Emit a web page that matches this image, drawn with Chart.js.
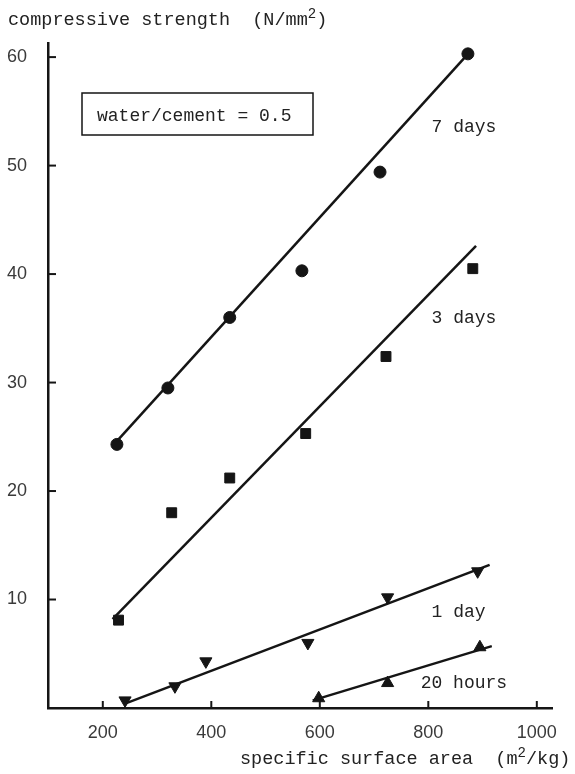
<!DOCTYPE html>
<html>
<head>
<meta charset="utf-8">
<script src="https://cdn.jsdelivr.net/npm/chart.js@4.4.0/dist/chart.umd.min.js"></script>
<style>
  html, body { margin:0; padding:0; background:#fff; }
  #wrap { width:575px; height:774px; }
</style>
</head>
<body>
<div id="wrap"><canvas id="c" width="575" height="774"></canvas></div>
<script>
// tick labels
const xTicks = [200, 400, 600, 800, 1000];
const yTicks = [10, 20, 30, 40, 50, 60];

// measured points (specific surface area m2/kg, strength N/mm2)
const days7X = [226, 320, 434, 567, 711, 873];
const days7Y = [24.3, 29.5, 36.0, 40.3, 49.4, 60.3];
const days3X = [229, 327, 434, 574, 722, 882];
const days3Y = [8.1, 18.0, 21.2, 25.3, 32.4, 40.5];
const day1X = [241, 333, 390, 578, 725, 891];
const day1Y = [0.7, 2.0, 4.3, 6.0, 10.2, 12.6];
const hours20X = [598, 725, 895];
const hours20Y = [0.9, 2.3, 5.6];

// fitted lines (start and end)
const fit7X = [226, 877];   const fit7Y = [24.6, 60.5];
const fit3X = [218, 888];   const fit3Y = [8.2, 42.6];
const fit1X = [241, 913];   const fit1Y = [0.4, 13.2];
const fit20X = [587, 917];  const fit20Y = [0.7, 5.7];

const curveNames = ['7 days', '3 days', '1 day', '20 hours'];

const ink = '#151515';
const mono = '"Liberation Mono", "DejaVu Sans Mono", monospace';
const pts = (xs, ys) => xs.map((x, i) => ({ x, y: ys[i] }));

const lineDs = (xs, ys) => ({ data: pts(xs, ys), showLine:true, borderColor:ink, borderWidth:2.5, pointRadius:0, fill:false });
const markDs = (xs, ys, style, r, rot) => ({ data: pts(xs, ys), showLine:false, pointStyle:style, pointRadius:r, pointRotation:rot||0, backgroundColor:ink, borderColor:ink, borderWidth:1 });

// labels placed at data coordinates
const curveLabelAt = [[806, 53.5], [806, 35.9], [806, 8.85], [786, 2.3]];

const decor = {
  id: 'decor',
  afterDraw(chart) {
    const { ctx, scales: { x, y } } = chart;
    ctx.save();
    ctx.strokeStyle = ink; ctx.lineWidth = 2;
    // inward tick marks
    xTicks.forEach(v => { const px = x.getPixelForValue(v); ctx.beginPath(); ctx.moveTo(px, y.bottom); ctx.lineTo(px, y.bottom - 7); ctx.stroke(); });
    yTicks.forEach(v => { const py = y.getPixelForValue(v); ctx.beginPath(); ctx.moveTo(x.left, py); ctx.lineTo(x.left + 8, py); ctx.stroke(); });

    ctx.fillStyle = '#222';
    ctx.textBaseline = 'alphabetic';
    // axis titles with superscript
    const sup = (parts, x0, yb) => {
      let cx = x0;
      parts.forEach(([t, s]) => {
        ctx.font = (s ? '14px ' : '18.5px ') + mono;
        ctx.fillText(t, cx, s ? yb - 7 : yb);
        cx += ctx.measureText(t).width;
      });
    };
    ctx.textAlign = 'left';
    sup([['compressive strength  (N/mm', 0], ['2', 1], [')', 0]], 8, 25);
    sup([['specific surface area  (m', 0], ['2', 1], ['/kg)', 0]], 240, 764);

    // condition box
    ctx.lineWidth = 1.5;
    ctx.strokeRect(82, 93, 231, 42);
    ctx.font = '18px ' + mono;
    ctx.fillText('water/cement = 0.5', 97, 121);

    // curve labels
    ctx.textBaseline = 'middle';
    curveNames.forEach((n, i) => {
      ctx.fillText(n, x.getPixelForValue(curveLabelAt[i][0]), y.getPixelForValue(curveLabelAt[i][1]));
    });
    ctx.restore();
  }
};

const tickFont = { family: '"Liberation Sans", Arial, sans-serif', size: 18 };

new Chart(document.getElementById('c'), {
  type: 'scatter',
  data: {
    datasets: [
      lineDs(fit7X, fit7Y), lineDs(fit3X, fit3Y), lineDs(fit1X, fit1Y), lineDs(fit20X, fit20Y),
      markDs(days7X, days7Y, 'circle', 6),
      markDs(days3X, days3Y, 'rect', 7),
      markDs(day1X, day1Y, 'triangle', 7, 180),
      markDs(hours20X, hours20Y, 'triangle', 7)
    ]
  },
  options: {
    responsive: false,
    animation: false,
    layout: { padding: { top: 43, right: 23, left: 0, bottom: 0 } },
    plugins: { legend: { display:false }, tooltip: { enabled:false } },
    scales: {
      x: {
        type: 'linear', min: 99, max: 1028,
        afterBuildTicks: s => { s.ticks = xTicks.map(v => ({ value: v })); },
        afterFit: s => { s.height = 66; },
        grid: { drawOnChartArea:false, drawTicks:false },
        border: { color: ink, width: 2.5 },
        ticks: { padding: 14, color: '#3a3a3a', font: tickFont, callback: v => String(v) }
      },
      y: {
        min: 0, max: 61.3,
        afterBuildTicks: s => { s.ticks = yTicks.map(v => ({ value: v })); },
        afterFit: s => { s.width = 48; },
        grid: { drawOnChartArea:false, drawTicks:false },
        border: { color: ink, width: 2.5 },
        ticks: { padding: 21, color: '#3a3a3a', font: tickFont, callback: v => String(v) }
      }
    }
  },
  plugins: [decor]
});
</script>
</body>
</html>
